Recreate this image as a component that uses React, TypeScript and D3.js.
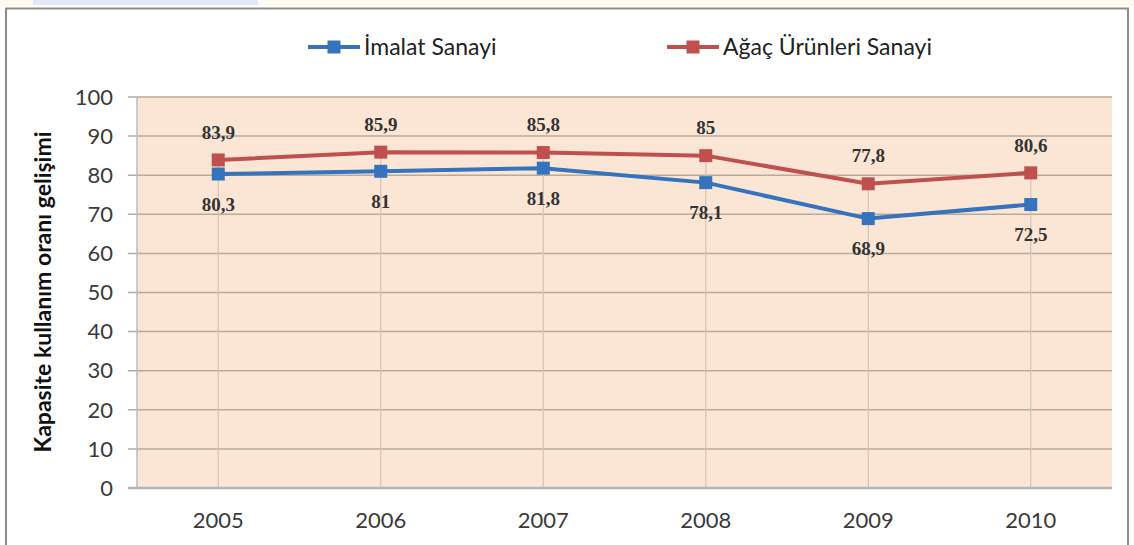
import React, { useRef, useEffect } from "react";
import * as d3 from "d3";

// Chart data
const years = ["2005", "2006", "2007", "2008", "2009", "2010"];
const imalatValues = [80.3, 81, 81.8, 78.1, 68.9, 72.5];
const agacValues = [83.9, 85.9, 85.8, 85, 77.8, 80.6];
const yTicks = [0, 10, 20, 30, 40, 50, 60, 70, 80, 90, 100];
const seriesNames = ["İmalat Sanayi", "Ağaç Ürünleri Sanayi"];

const BLUE = "#3573bd";
const RED = "#c0504d";
const SANS = "Lato, 'Noto Sans', sans-serif";

const App: React.FC = () => {
  const svgRef = useRef<SVGSVGElement>(null);

  useEffect(() => {
    if (!svgRef.current) return;
    const svg = d3.select(svgRef.current);
    svg.selectAll("*").remove();

    const width = 1134;
    const plot = { left: 137, right: 1112, top: 97, bottom: 488 };

    // top strip + outer frame
    svg.append("rect").attr("x", 0).attr("y", 0).attr("width", width).attr("height", 6).attr("fill", "#fdfaf0");
    svg.append("rect").attr("x", 33).attr("y", 0).attr("width", 225).attr("height", 5).attr("fill", "#e4e7f6");
    svg
      .append("rect")
      .attr("x", 6)
      .attr("y", 8.5)
      .attr("width", 1122)
      .attr("height", 545)
      .attr("fill", "#ffffff")
      .attr("stroke", "#8c8c8c")
      .attr("stroke-width", 2);

    const x = d3.scaleBand().domain(years).range([plot.left, plot.right]);
    const y = d3.scaleLinear().domain([0, 100]).range([plot.bottom, plot.top]);
    const cx = (d: string) => (x(d) || 0) + x.bandwidth() / 2;

    // plot background
    svg
      .append("rect")
      .attr("x", plot.left)
      .attr("y", plot.top)
      .attr("width", plot.right - plot.left)
      .attr("height", plot.bottom - plot.top)
      .attr("fill", "#fbe6d6");

    // horizontal gridlines (with tick marks)
    svg
      .append("g")
      .selectAll("line")
      .data(yTicks.filter((t) => t > 0))
      .join("line")
      .attr("x1", plot.left - 9)
      .attr("x2", plot.right)
      .attr("y1", (d) => y(d))
      .attr("y2", (d) => y(d))
      .attr("stroke", "#b9aa9b")
      .attr("stroke-width", 1.5);

    // drop lines
    svg
      .append("g")
      .selectAll("line")
      .data(years)
      .join("line")
      .attr("x1", (d) => cx(d))
      .attr("x2", (d) => cx(d))
      .attr("y1", (d, i) => y(Math.max(agacValues[i], imalatValues[i])))
      .attr("y2", plot.bottom)
      .attr("stroke", "#d4c3b4")
      .attr("stroke-width", 1.2);

    // axes lines
    svg
      .append("line")
      .attr("x1", plot.left)
      .attr("x2", plot.left)
      .attr("y1", plot.top)
      .attr("y2", plot.bottom)
      .attr("stroke", "#bdbdbd")
      .attr("stroke-width", 1.5);
    svg
      .append("line")
      .attr("x1", plot.left - 9)
      .attr("x2", plot.right)
      .attr("y1", plot.bottom)
      .attr("y2", plot.bottom)
      .attr("stroke", "#b5b5b5")
      .attr("stroke-width", 2.5);

    // y tick labels
    svg
      .append("g")
      .selectAll("text")
      .data(yTicks)
      .join("text")
      .attr("x", 113)
      .attr("y", (d) => y(d))
      .attr("dy", "0.35em")
      .attr("text-anchor", "end")
      .attr("font-family", SANS)
      .attr("font-size", 22)
      .attr("fill", "#3a3a3a")
      .text((d) => d);

    // x tick labels
    svg
      .append("g")
      .selectAll("text")
      .data(years)
      .join("text")
      .attr("x", (d) => cx(d))
      .attr("y", 520)
      .attr("dy", "0.35em")
      .attr("text-anchor", "middle")
      .attr("font-family", SANS)
      .attr("font-size", 22)
      .attr("fill", "#3a3a3a")
      .text((d) => d);

    // y axis title
    svg
      .append("text")
      .attr("transform", `translate(43,292) rotate(-90)`)
      .attr("text-anchor", "middle")
      .attr("dy", "0.35em")
      .attr("font-family", SANS)
      .attr("font-weight", "bold")
      .attr("font-size", 23)
      .attr("fill", "#111")
      .text("Kapasite kullanım oranı gelişimi");

    const line = d3
      .line<number>()
      .x((_, i) => cx(years[i]))
      .y((d) => y(d));

    const series = [
      { values: imalatValues, color: BLUE, labelDy: 30 },
      { values: agacValues, color: RED, labelDy: -28 },
    ];

    series.forEach((s) => {
      svg
        .append("path")
        .datum(s.values)
        .attr("fill", "none")
        .attr("stroke", s.color)
        .attr("stroke-width", 4)
        .attr("d", line);

      svg
        .append("g")
        .selectAll("rect")
        .data(s.values)
        .join("rect")
        .attr("x", (_, i) => cx(years[i]) - 6.5)
        .attr("y", (d) => y(d) - 6.5)
        .attr("width", 13)
        .attr("height", 13)
        .attr("fill", s.color);

      svg
        .append("g")
        .selectAll("text")
        .data(s.values)
        .join("text")
        .attr("x", (_, i) => cx(years[i]))
        .attr("y", (d) => y(d) + s.labelDy)
        .attr("dy", "0.35em")
        .attr("text-anchor", "middle")
        .attr("font-family", "'Liberation Serif', serif")
        .attr("font-weight", "bold")
        .attr("font-size", 19)
        .attr("fill", "#333")
        .text((d) => String(d).replace(".", ","));
    });

    // legend
    const legend = [
      { name: seriesNames[0], color: BLUE, x: 308 },
      { name: seriesNames[1], color: RED, x: 667 },
    ];
    legend.forEach((l) => {
      const g = svg.append("g").attr("transform", `translate(${l.x},47)`);
      g.append("line").attr("x1", 0).attr("x2", 52).attr("stroke", l.color).attr("stroke-width", 4);
      g.append("rect").attr("x", 19.5).attr("y", -6.5).attr("width", 13).attr("height", 13).attr("fill", l.color);
      g.append("text")
        .attr("x", 56)
        .attr("dy", "0.35em")
        .attr("font-family", SANS)
        .attr("font-size", 23)
        .attr("fill", "#222")
        .text(l.name);
    });
  }, []);

  return <svg ref={svgRef} width={1134} height={545} style={{ position: "absolute", left: 0, top: 0 }} />;
};

export default App;
